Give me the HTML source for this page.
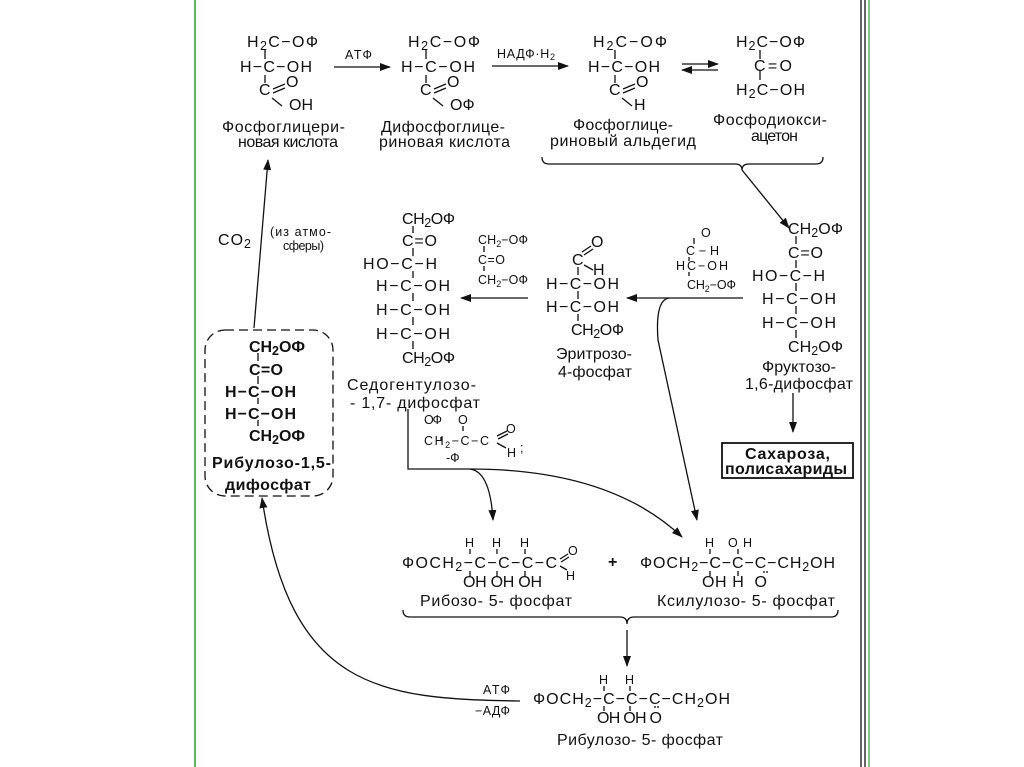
<!DOCTYPE html>
<html><head><meta charset="utf-8"><style>
html,body{margin:0;padding:0;background:#fff;}
svg{display:block}
text{font-family:"Liberation Sans",sans-serif;font-size:16px;fill:#111}
.s{font-size:12.5px}
.b{font-weight:bold}
</style></head><body>
<svg width="1024" height="767" viewBox="0 0 1024 767" xmlns="http://www.w3.org/2000/svg">
<defs><marker id="a" markerWidth="11" markerHeight="8" refX="10" refY="4" orient="auto" markerUnits="userSpaceOnUse"><path d="M0,0 L11,4 L0,8 z" fill="#111"/></marker></defs>
<rect width="1024" height="767" fill="#fff"/>
<line x1="195" y1="0" x2="195" y2="767" stroke="#5cb85c" stroke-width="2"/>
<line x1="861" y1="0" x2="861" y2="767" stroke="#333" stroke-width="1.5"/>
<line x1="865" y1="0" x2="865" y2="767" stroke="#333" stroke-width="1.5"/>
<line x1="869" y1="0" x2="869" y2="767" stroke="#5cb85c" stroke-width="1.5"/>
<g stroke="#111" stroke-width="1.3" fill="none">
<line x1="334" y1="67" x2="390" y2="67" marker-end="url(#a)"/>
<line x1="492" y1="66" x2="568" y2="66" marker-end="url(#a)"/>
<line x1="682" y1="64" x2="718" y2="64" marker-end="url(#a)"/>
<line x1="718" y1="70" x2="682" y2="70" marker-end="url(#a)"/>
<path d="M542,157 q0,7 7,7 h186 q7,0 7,6 q0,-6 7,-6 h67 q7,0 7,-7"/>
<line x1="742" y1="170" x2="789" y2="228" marker-end="url(#a)"/>
<line x1="254" y1="328" x2="268" y2="160" marker-end="url(#a)"/>
<rect x="205" y="330" width="128" height="166" rx="20" stroke-dasharray="9,5"/>
<line x1="528" y1="298" x2="461" y2="298" marker-end="url(#a)"/>
<line x1="743" y1="298" x2="627" y2="298" marker-end="url(#a)"/>
<path d="M669,298 q-14,2 -11,42 L697,520" marker-end="url(#a)"/>
<line x1="793" y1="393" x2="793" y2="432" marker-end="url(#a)"/>
<rect x="722" y="443" width="131" height="35" stroke-width="1.8"/>
<path d="M408,409 V469 H468 q22,0 25,51" marker-end="url(#a)"/>
<path d="M470,469 q140,0 212,68" marker-end="url(#a)"/>
<path d="M403,610 q0,7 7,7 h210 q7,0 7,7 q0,-7 7,-7 h197 q7,0 7,-7"/>
<line x1="627" y1="630" x2="627" y2="666" marker-end="url(#a)"/>
<path d="M520,701 C380,699 290,690 262,498" marker-end="url(#a)"/>
<path d="M265,50 v9 M265,75 v8 M272,98 l10,8 M273,89 l12,-5 M273,93 l12,-5"/>
<path d="M426,50 v9 M426,75 v8 M433,98 l10,8 M434,89 l12,-5 M434,93 l12,-5"/>
<path d="M615,50 v9 M615,75 v8 M622,98 l10,8 M623,89 l12,-5 M623,93 l12,-5"/>
<path d="M760,50 v9 M760,71 v9"/>
<path d="M258,353 v8 M258,376 v8 M258,398 v6 M258,420 v6"/>
<path d="M413,226 v7 M413,248 v8 M413,271 v7 M413,293 v8 M413,317 v8 M413,341 v8"/>
<path d="M484,246 v6 M484,266 v5"/>
<path d="M578,267 v8 M578,291 v8 M578,314 v7 M582,252 l9,-6 M584,255 l9,-6 M584,265 l9,5"/>
<path d="M694,238 v6 M689,257 v4 M689,272 v4"/>
<path d="M796,236 v8 M796,260 v8 M796,283 v8 M796,306 v8 M796,330 v8"/>
<path d="M441,437 v4 M463,426 v5 M497,436 l10,-5 M498,439 l10,-5 M497,443 l9,5"/>
<path d="M470,549 v5 M497,549 v5 M525,549 v5 M470,571 v5 M497,571 v5 M525,571 v5 M560,559 l8,-5 M561,562 l8,-5 M560,566 l7,4"/>
<path d="M710,549 v5 M738,549 v5 M710,571 v5 M738,571 v5 M764,571 v2 M767,571 v2"/>
<path d="M604,686 v5 M630,686 v5 M604,706 v5 M630,706 v5 M655,706 v2 M658,706 v2"/>
</g>
<text x="247" y="47" textLength="71">H<tspan class="s" dy="3">2</tspan><tspan dy="-3">C−OФ</tspan></text>
<text x="240" y="72" textLength="72">H−C−OH</text>
<text x="259" y="95">C</text><text x="286" y="87">O</text>
<text x="289" y="110">OH</text>
<text x="222" y="132" textLength="123">Фосфоглицери-</text>
<text x="238" y="147" textLength="100">новая кислота</text>
<text x="345" y="59" class="s" textLength="27">АТФ</text>
<text x="408" y="47" textLength="72">H<tspan class="s" dy="3">2</tspan><tspan dy="-3">C−OФ</tspan></text>
<text x="401" y="72" textLength="74">H−C−OH</text>
<text x="420" y="95">C</text><text x="447" y="87">O</text>
<text x="450" y="110">OФ</text>
<text x="381" y="132" textLength="124">Дифосфоглице-</text>
<text x="379" y="147" textLength="131">риновая кислота</text>
<text x="497" y="58" class="s" textLength="58">НАДФ·H<tspan dy="2" font-size="9">2</tspan></text>
<text x="593" y="47" textLength="74">H<tspan class="s" dy="3">2</tspan><tspan dy="-3">C−OФ</tspan></text>
<text x="588" y="72" textLength="72">H−C−OH</text>
<text x="609" y="95">C</text><text x="636" y="87">O</text>
<text x="634" y="110">H</text>
<text x="573" y="130" textLength="100">Фосфоглице-</text>
<text x="550" y="146" textLength="146">риновый альдегид</text>
<text x="736" y="47" textLength="69">H<tspan class="s" dy="3">2</tspan><tspan dy="-3">C−OФ</tspan></text>
<text x="754" y="71" textLength="38">C=O</text>
<text x="736" y="95" textLength="69">H<tspan class="s" dy="3">2</tspan><tspan dy="-3">C−OH</tspan></text>
<text x="713" y="125" textLength="114">Фосфодиокси-</text>
<text x="751" y="141" textLength="47">ацетон</text>
<text x="218" y="245" textLength="33">CO<tspan class="s" dy="3">2</tspan></text>
<text x="270" y="236" class="s" textLength="61">(из атмо-</text>
<text x="283" y="250" class="s" textLength="41">сферы)</text>
<text x="249" y="352" class="b" textLength="56">CH<tspan class="s" dy="3">2</tspan><tspan dy="-3">OФ</tspan></text>
<text x="249" y="375" class="b" textLength="34">C=O</text>
<text x="225" y="397" class="b" textLength="71">H−C−OH</text>
<text x="225" y="419" class="b" textLength="71">H−C−OH</text>
<text x="249" y="441" class="b" textLength="56">CH<tspan class="s" dy="3">2</tspan><tspan dy="-3">OФ</tspan></text>
<text x="212" y="468" class="b" textLength="119">Рибулозо-1,5-</text>
<text x="225" y="490" class="b" textLength="86">дифосфат</text>
<text x="402" y="224" textLength="53">CH<tspan class="s" dy="3">2</tspan><tspan dy="-3">OФ</tspan></text>
<text x="402" y="246" textLength="35">C=O</text>
<text x="363" y="269" textLength="74">HO−C−H</text>
<text x="376" y="291" textLength="74">H−C−OH</text>
<text x="376" y="315" textLength="74">H−C−OH</text>
<text x="376" y="339" textLength="74">H−C−OH</text>
<text x="402" y="363" textLength="53">CH<tspan class="s" dy="3">2</tspan><tspan dy="-3">OФ</tspan></text>
<text x="347" y="390" textLength="129">Седогентулозо-</text>
<text x="350" y="408" textLength="130">- 1,7- дифосфат</text>
<text x="478" y="244" class="s" textLength="50">CH<tspan font-size="9" dy="3">2</tspan><tspan dy="-3">−OФ</tspan></text>
<text x="478" y="264" class="s" textLength="27">C=O</text>
<text x="478" y="284" class="s" textLength="50">CH<tspan font-size="9" dy="3">2</tspan><tspan dy="-3">−OФ</tspan></text>
<text x="591" y="247">O</text>
<text x="572" y="265">C</text><text x="593" y="275">H</text>
<text x="546" y="289" textLength="73">H−C−OH</text>
<text x="546" y="312" textLength="73">H−C−OH</text>
<text x="571" y="335" textLength="53">CH<tspan class="s" dy="3">2</tspan><tspan dy="-3">OФ</tspan></text>
<text x="556" y="359" textLength="76">Эритрозо-</text>
<text x="558" y="377" textLength="74">4-фосфат</text>
<text x="701" y="237" class="s">O</text>
<text x="686" y="255" class="s" textLength="33">C−H</text>
<text x="676" y="270" class="s" textLength="52">HC−OH</text>
<text x="687" y="289" class="s" textLength="49">CH<tspan font-size="9" dy="3">2</tspan><tspan dy="-3">−OФ</tspan></text>
<text x="788" y="234" textLength="55">CH<tspan class="s" dy="3">2</tspan><tspan dy="-3">OФ</tspan></text>
<text x="788" y="258" textLength="35">C=O</text>
<text x="752" y="281" textLength="73">HO−C−H</text>
<text x="762" y="304" textLength="74">H−C−OH</text>
<text x="762" y="328" textLength="74">H−C−OH</text>
<text x="788" y="352" textLength="55">CH<tspan class="s" dy="3">2</tspan><tspan dy="-3">OФ</tspan></text>
<text x="762" y="372" textLength="74">Фруктозо-</text>
<text x="745" y="389" textLength="108">1,6-дифосфат</text>
<text x="745" y="459" class="b" textLength="85">Сахароза,</text>
<text x="725" y="474" class="b" textLength="122">полисахариды</text>
<text x="424" y="424" class="s" textLength="18">OФ</text>
<text x="458" y="424" class="s">O</text>
<text x="424" y="445" class="s" textLength="65">CH<tspan font-size="9" dy="3">2</tspan><tspan dy="-3">−C−C</tspan></text>
<text x="506" y="433" class="s">O</text>
<text x="507" y="457" class="s">H</text>
<text x="520" y="452" class="s">;</text>
<text x="446" y="462" class="s">-Ф</text>
<text x="465" y="547" class="s">H</text><text x="492" y="547" class="s">H</text><text x="520" y="547" class="s">H</text>
<text x="402" y="568" textLength="155">ФОСН<tspan class="s" dy="3">2</tspan><tspan dy="-3">−C−C−C−C</tspan></text>
<text x="568" y="555" class="s">O</text>
<text x="566" y="580" class="s">H</text>
<text x="463" y="587" textLength="79">OH OH OH</text>
<text x="420" y="606" textLength="152">Рибозо- 5- фосфат</text>
<text x="608" y="567" class="b">+</text>
<text x="705" y="547" class="s">H</text><text x="728" y="547" class="s" textLength="24">OH</text>
<text x="640" y="568" textLength="195">ФОСН<tspan class="s" dy="3">2</tspan><tspan dy="-3">−C−C−C−CH</tspan><tspan class="s" dy="3">2</tspan><tspan dy="-3">OH</tspan></text>
<text x="702" y="587" textLength="65">OH H&#160; O</text>
<text x="657" y="606" textLength="178">Ксилулозо- 5- фосфат</text>
<text x="599" y="684" class="s">H</text><text x="625" y="684" class="s">H</text>
<text x="533" y="704" textLength="197">ФОСН<tspan class="s" dy="3">2</tspan><tspan dy="-3">−C−C−C−CH</tspan><tspan class="s" dy="3">2</tspan><tspan dy="-3">OH</tspan></text>
<text x="597" y="723" textLength="65">OH OH O</text>
<text x="557" y="745" textLength="166">Рибулозо- 5- фосфат</text>
<text x="483" y="694" class="s" textLength="27">АТФ</text>
<text x="475" y="715" class="s" textLength="35">−АДФ</text>
</svg>
</body></html>
